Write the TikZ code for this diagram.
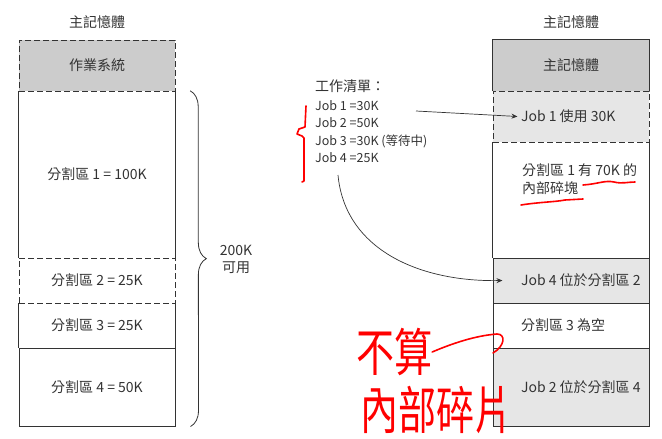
\documentclass[tikz,border=0pt]{standalone}
\usepackage{fontspec}
\setmainfont{Noto Sans CJK TC}
\usetikzlibrary{positioning,arrows.meta,decorations.pathreplacing}
\definecolor{boxline}{HTML}{333333}
\definecolor{osgray}{HTML}{CCCCCC}
\definecolor{jobgray}{HTML}{E6E6E6}
\definecolor{txt}{HTML}{333333}

\begin{document}
\begin{tikzpicture}
      [x=1pt,y=-1pt,
       every node/.style={font=\fontsize{14}{17}\selectfont,text=txt},
       part/.style={minimum width=156pt,inner sep=0pt},
       solidpart/.style={part,draw=boxline,line width=1pt},
       dashpart/.style={part,draw=boxline,line width=1pt,dash pattern=on 6pt off 3pt},
       side/.style={draw=boxline,line width=1pt},
       link/.style={draw=boxline,line width=0.7pt,-{Stealth[length=6pt,width=5pt]}},
       redpen/.style={red,line width=1.6pt,line cap=round,line join=round},
       hand/.style={text=red,font=\fontsize{38}{40}\selectfont,inner sep=0pt}]
      \useasboundingbox (0,0) rectangle (662,439);

      \node (ltitle) at (97,22) {主記憶體};
      \node (rtitle) at (571,22) {主記憶體};

      \node [dashpart,fill=osgray,minimum height=51pt] (os) at (97,65.5) {作業系統};
      \node [part,minimum height=167pt] (p1) at (97,174.5) {分割區 1 = 100K};
      \node [dashpart,minimum height=45pt] (p2) at (97,280.5) {分割區 2 = 25K};
      \node [part,minimum height=45pt] (p3) at (97,325.5) {分割區 3 = 25K};
      \node [solidpart,minimum height=78pt] (p4) at (97,387) {分割區 4 = 50K};
      \draw [side] (p1.north west) -- (p1.south west) (p1.north east) -- (p1.south east);
      \draw [side] (p3.north west) -- (p3.south west) (p3.north east) -- (p3.south east);

      \draw [side,line width=0.8pt,decorate,decoration={brace,amplitude=16pt}]
        ([xshift=15pt]p1.north east) -- ([xshift=15pt]p4.south east);
      \node [align=center] (avail) at (236,259) {200K\\可用};

      \node [part,fill=osgray,minimum height=51pt] (rtop) at (571,65.5) {主記憶體};
      \draw [side] (rtop.south west) -- (rtop.north west) -- (rtop.north east) -- (rtop.south east);
      \node [dashpart,fill=jobgray,minimum height=51pt] (job1) at (571,116.5) {};
      \node [part,minimum height=116pt] (rp1) at (571,200) {};
      \draw [side] (rp1.north west) -- (rp1.south west) (rp1.north east) -- (rp1.south east);
      \node [solidpart,fill=jobgray,minimum height=45pt] (job4) at (571,280.5) {};
      \node [solidpart,minimum height=45pt] (rp3) at (571,325.5) {};
      \node [solidpart,fill=jobgray,minimum height=78pt] (job2) at (571,387) {};

      \node [anchor=west] (t1) at ([xshift=25pt]job1.west) {Job 1 使用 30K};
      \node [anchor=north west,align=left,inner sep=0pt,font=\fontsize{14}{18}\selectfont]
        (t2) at (522,163) {分割區 1 有 70K 的\\內部碎塊};
      \node [anchor=west] (t4) at ([xshift=25pt]job4.west) {Job 4 位於分割區 2};
      \node [anchor=west] (t3) at ([xshift=25pt]rp3.west) {分割區 3 為空};
      \node [anchor=west] (t5) at ([xshift=25pt]job2.west) {Job 2 位於分割區 4};

      \node [anchor=north west,align=left,inner sep=0pt,font=\fontsize{12.5}{17.5}\selectfont]
        (jobs) at (315,80) {{\fontsize{14}{17}\selectfont 工作清單：}\\[1pt]Job 1 =30K\\Job 2 =50K\\Job 3 =30K (等待中)\\Job 4 =25K};

      \coordinate (j1) at (416,111);
      \coordinate (j4) at (338,175);
      \draw [link] (j1) -- (t1.west);
      \draw [link] (j4) .. controls (345,250) and (420,282) .. ([xshift=10pt]job4.west);

      % red pen notes
      \draw [redpen] (306,106) -- (305,127) -- (299,129) -- (297,134) -- (302,136) -- (304,138) -- (304,181) -- (302,182);
      \draw [redpen] (583,185) .. controls (598,184) and (605,180) .. (614,182) .. controls (622,184) and (628,182) .. (635,182);
      \draw [redpen] (521,205) .. controls (540,202) and (555,202) .. (565,200) -- (583,199);
      \node [hand] (note1) at (394,352) {\scalebox{1}[1.35]{不算}};
      \node [hand] (note2) at (436,410) {\scalebox{1}[1.35]{內部碎片}};
      \draw [redpen] (note1.east) .. controls (465,338) and (485,335) .. (497,334) .. controls (506,334) and (505,346) .. (493,353);
\end{tikzpicture}
\end{document}
